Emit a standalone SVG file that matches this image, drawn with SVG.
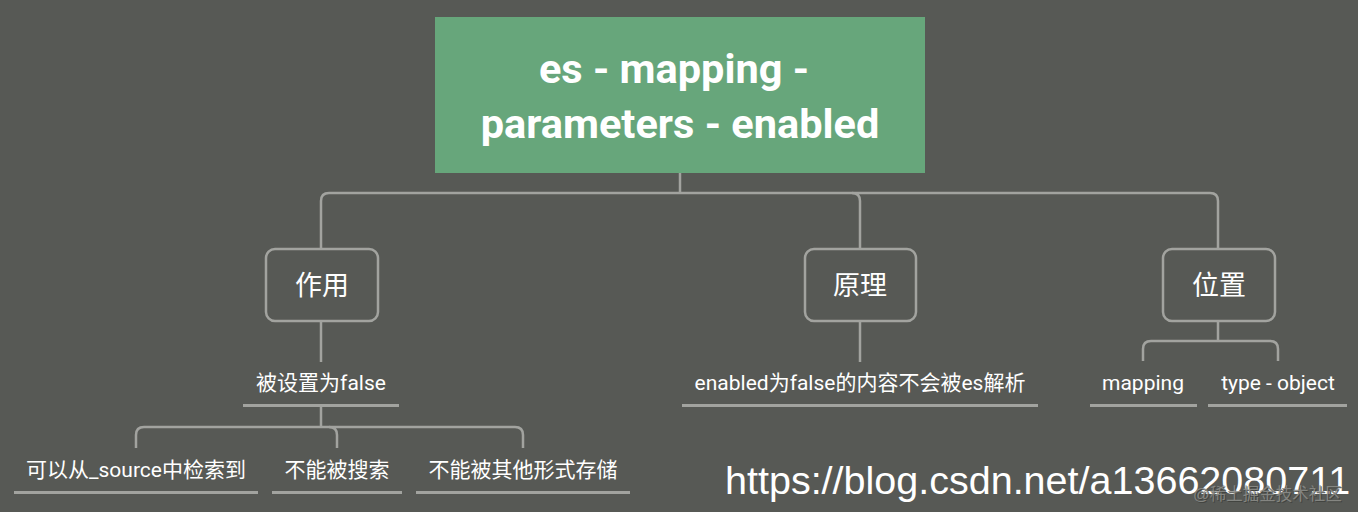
<svg xmlns="http://www.w3.org/2000/svg" width="1358" height="512" viewBox="0 0 1358 512">
<style>
.bg{fill:#575955}
.ln{fill:none;stroke:#a2a39f;stroke-width:2.5;stroke-linecap:butt}
.ul{fill:none;stroke:#a2a39f;stroke-width:3}
.box{fill:none;stroke:#a2a39f;stroke-width:2.5}
.t{font-family:Roboto,"Noto Sans CJK SC",sans-serif;fill:#ffffff;text-anchor:middle}
.root{font-size:41.5px;font-weight:bold}
.main{font-size:27px}
.sub{font-size:21px}
</style>
<rect class="bg" x="0" y="0" width="1358" height="512"/>
<g id="connectors">
<path class="ln" d="M680 173 V193"/>
<path class="ln" d="M321 249 V201 Q321 193 329 193 H1210 Q1218 193 1218 201 V249"/>
<path class="ln" d="M860 249 V201 Q860 193 852 193"/>
<path class="ln" d="M321 321 V362"/>
<path class="ln" d="M860 321 V362"/>
<path class="ln" d="M1218 321 V341"/>
<path class="ln" d="M1143 361 V349 Q1143 341 1151 341 H1270 Q1278 341 1278 349 V361"/>
<path class="ln" d="M321 406 V427"/>
<path class="ln" d="M136 448 V435 Q136 427 144 427 H515 Q523 427 523 435 V448"/>
<path class="ln" d="M337 448 V435 Q337 427 329 427"/>
</g>
<g id="root">
<rect x="435" y="17" width="490" height="156" fill="#67a67b"/>
<text class="t root" x="674" y="83">es - mapping -</text>
<text class="t root" x="680" y="138">parameters - enabled</text>
</g>
<g id="node-zuoyong">
<rect class="box" x="266" y="249" width="112" height="72" rx="9"/>
<text class="t main" x="322" y="295">作用</text>
</g>
<g id="node-yuanli">
<rect class="box" x="805" y="249" width="111" height="72" rx="9"/>
<text class="t main" x="860" y="295">原理</text>
</g>
<g id="node-weizhi">
<rect class="box" x="1163" y="249" width="112" height="72" rx="9"/>
<text class="t main" x="1219" y="295">位置</text>
</g>
<g id="node-false">
<text class="t sub" x="321" y="390">被设置为false</text>
<path class="ul" d="M243 405.5 H399"/>
</g>
<g id="node-source">
<text class="t sub" x="136" y="477">可以从_source中检索到</text>
<path class="ul" d="M14 492.5 H258"/>
</g>
<g id="node-search">
<text class="t sub" x="337" y="477">不能被搜索</text>
<path class="ul" d="M272 492.5 H402"/>
</g>
<g id="node-store">
<text class="t sub" x="523" y="477">不能被其他形式存储</text>
<path class="ul" d="M416 492.5 H630"/>
</g>
<g id="node-principle">
<text class="t sub" x="860" y="390">enabled为false的内容不会被es解析</text>
<path class="ul" d="M682 405.5 H1038"/>
</g>
<g id="node-mapping">
<text class="t sub" x="1143" y="390">mapping</text>
<path class="ul" d="M1090 405.5 H1197"/>
</g>
<g id="node-type">
<text class="t sub" x="1278" y="390">type - object</text>
<path class="ul" d="M1208 405.5 H1347"/>
</g>
<text x="725" y="494" font-family="'Liberation Sans',Arial,sans-serif" font-size="39.5" fill="#ffffff">https://blog.csdn.net/a13662080711</text>
<text x="1194" y="501" font-family="'Liberation Sans','Noto Sans CJK SC',sans-serif" font-size="16.5" fill="#3e3f3c" opacity="0.8">@稀土掘金技术社区</text>
<text x="1193" y="500" font-family="'Liberation Sans','Noto Sans CJK SC',sans-serif" font-size="16.5" fill="#8e8f8b" opacity="0.85">@稀土掘金技术社区</text>
</svg>
